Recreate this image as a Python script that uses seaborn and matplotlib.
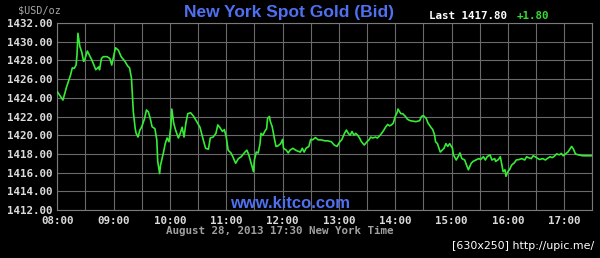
import matplotlib
matplotlib.use("Agg")
import matplotlib.pyplot as plt
import seaborn as sns
import pandas as pd
import numpy as np

# minutes after 08:00 (New York time)
minutes = [
    0, 6, 10, 14, 16, 18, 20, 21, 22, 24,
    26, 28, 29, 32, 34, 37, 39, 41, 44, 45,
    47, 49, 53, 56, 58, 61, 62, 65, 68, 72,
    75, 77, 79, 81, 83, 84, 86, 88, 90, 93,
    95, 97, 99, 101, 104, 106, 107, 109, 110, 113,
    115, 117, 119, 121, 122, 124, 126, 129, 131, 133,
    135, 137, 139, 142, 145, 148, 152, 155, 158, 161,
    163, 166, 169, 171, 173, 176, 178, 180, 182, 185,
    187, 190, 193, 196, 200, 202, 204, 207, 209, 210,
    212, 214, 216, 217, 219, 221, 223, 224, 226, 227,
    229, 231, 233, 235, 238, 240, 241, 244, 246, 248,
    251, 254, 256, 259, 261, 263, 265, 268, 270, 272,
    275, 278, 281, 285, 288, 292, 295, 298, 301, 303,
    306, 308, 310, 312, 314, 316, 318, 320, 322, 324,
    327, 330, 332, 334, 336, 339, 341, 344, 347, 350,
    352, 354, 356, 358, 360, 362, 363, 366, 368, 371,
    373, 376, 379, 382, 386, 388, 390, 393, 395, 398,
    400, 402, 403, 405, 408, 410, 412, 414, 416, 418,
    421, 422, 425, 427, 429, 431, 434, 436, 438, 441,
    443, 446, 449, 451, 454, 456, 458, 461, 463, 466,
    467, 470, 472, 474, 475, 477, 478, 480, 482, 484,
    487, 489, 492, 495, 498, 500, 502, 505, 507, 509,
    512, 514, 517, 520, 522, 525, 527, 529, 532, 535,
    537, 539, 542, 544, 546, 548, 550, 552, 555, 560,
    565, 569,
]

bid = [
    1424.65, 1423.76, 1425.2, 1426.4, 1427.2, 1427.15, 1427.5, 1428.6, 1430.9, 1429.5,
    1428.9, 1427.9, 1428.0, 1429.0, 1428.6, 1428.0, 1427.5, 1427.0, 1427.3, 1427.0,
    1428.2, 1428.4, 1428.4, 1428.2, 1427.5, 1428.9, 1429.35, 1429.1, 1428.4, 1427.9,
    1427.4, 1427.2, 1426.1, 1422.5, 1420.7, 1420.2, 1419.8, 1420.55, 1420.9, 1421.8,
    1422.7, 1422.5, 1421.8, 1420.9, 1420.7, 1419.5, 1417.2, 1415.9, 1416.8, 1418.1,
    1419.1, 1419.7, 1419.3, 1420.9, 1422.8, 1421.3, 1420.55, 1419.7, 1420.2, 1420.85,
    1419.8, 1421.3, 1422.3, 1422.4, 1422.05, 1421.55, 1420.85, 1419.7, 1418.6, 1418.5,
    1419.7, 1419.8, 1420.2, 1421.1, 1420.85, 1420.4, 1420.6, 1419.8, 1418.4, 1418.1,
    1417.7, 1417.0, 1417.5, 1417.7, 1418.2, 1418.4, 1417.9, 1416.8, 1416.1, 1417.35,
    1418.2, 1418.1, 1419.1, 1420.2, 1420.0, 1420.4, 1420.7, 1421.8, 1422.0, 1421.45,
    1420.9, 1419.8, 1418.8, 1418.85, 1419.1, 1419.55, 1418.6, 1418.4, 1418.1, 1418.4,
    1418.6, 1418.4, 1418.3, 1418.2, 1418.6, 1418.2, 1418.6, 1418.8, 1419.55, 1419.5,
    1419.75, 1419.5, 1419.5, 1419.4, 1419.4, 1419.3, 1418.95, 1418.8, 1419.3, 1419.5,
    1420.2, 1420.55, 1420.2, 1420.0, 1420.4, 1420.0, 1420.2, 1420.0, 1419.7, 1419.3,
    1418.95, 1419.3, 1419.5, 1419.8, 1419.7, 1419.8, 1419.7, 1420.0, 1420.4, 1420.9,
    1421.15, 1421.0, 1421.1, 1421.3, 1422.0, 1422.4, 1422.8, 1422.3, 1422.3, 1422.0,
    1421.7, 1421.55, 1421.5, 1421.45, 1421.55, 1422.0, 1422.1, 1421.8, 1421.3, 1420.85,
    1420.6, 1420.0, 1419.3, 1419.1, 1418.2, 1418.4, 1418.6, 1419.1, 1418.8, 1419.1,
    1418.6, 1417.9, 1417.35, 1417.7, 1418.1, 1417.5, 1417.35, 1416.8, 1416.3, 1417.0,
    1417.2, 1417.35, 1417.5, 1417.4, 1417.7, 1417.35, 1417.7, 1417.9, 1417.35, 1417.5,
    1417.2, 1417.4, 1417.7, 1416.6, 1416.1, 1416.3, 1415.6, 1416.1, 1416.35, 1416.8,
    1417.05, 1417.35, 1417.4, 1417.5, 1417.35, 1417.7, 1417.6, 1417.5, 1417.8, 1417.7,
    1417.5, 1417.4, 1417.5, 1417.35, 1417.5, 1417.7, 1417.6, 1417.7, 1418.0, 1417.9,
    1418.05, 1417.8, 1418.05, 1418.2, 1418.5, 1418.8, 1418.5, 1418.0, 1417.9, 1417.8,
    1417.8, 1417.8,
]

y_ticks = [1412, 1414, 1416, 1418, 1420, 1422, 1424, 1426, 1428, 1430, 1432]
hour_labels = ["08:00", "09:00", "10:00", "11:00", "12:00",
               "13:00", "14:00", "15:00", "16:00", "17:00"]

title = "New York Spot Gold (Bid)"
last_text = "Last 1417.80"
change_text = "+1.80"
unit_text = "$USD/oz"
site_text = "www.kitco.com"
date_text = "August 28, 2013 17:30 New York Time"
stamp_text = "[630x250] http://upic.me/"

sns.set_style("dark")
plt.rcParams['font.family'] = ['DejaVu Sans Mono']

W, H = 600, 258
fig = plt.figure(figsize=(W / 100, H / 100), dpi=100, facecolor='black')
ax = fig.add_axes([57.3 / W, 1 - 210 / H, 535 / W, 187 / H])
ax.set_facecolor('black')

df = pd.DataFrame({'hour': 8 + np.array(minutes) / 60.0, 'bid': bid})
sns.lineplot(data=df, x='hour', y='bid', ax=ax, color='#35ec35', linewidth=1.2, zorder=3)

ax.set_xlim(8, 17.5)
ax.set_ylim(1412, 1432)
xt = np.arange(8, 17.51, 0.5)
ax.set_xticks(xt)
xl = []
for i, v in enumerate(xt):
    xl.append(hour_labels[i // 2] if i % 2 == 0 and i // 2 < len(hour_labels) else "")
ax.set_xticklabels(xl)
ax.set_yticks(y_ticks)
ax.set_yticklabels([f"{v:.2f}" for v in y_ticks])
ax.set_xlabel("")
ax.set_ylabel("")

ax.grid(True, color='#6a6a6a', linewidth=0.8, zorder=1)
for s in ax.spines.values():
    s.set_visible(True)
    s.set_color('#7a7a7a')
    s.set_linewidth(0.8)

ax.tick_params(axis='both', length=0, colors='#dcdcdc', labelsize=7.8)
ax.tick_params(axis='y', pad=3.5)
ax.tick_params(axis='x', pad=4)
for lab in ax.get_xticklabels() + ax.get_yticklabels():
    lab.set_fontweight('bold')
    lab.set_color('#dcdcdc')

fig.text(18 / W, 1 - 10.5 / H, unit_text.replace('$', r'\$'), color='#a8a8a8',
         fontsize=7.3, ha='left', va='center')
fig.text(289 / W, 1 - 12 / H, title, color='#4f70f0', fontsize=12.5,
         fontweight='bold', family=['Liberation Sans'], ha='center', va='center')
fig.text(429 / W, 1 - 16 / H, last_text, color='white', fontsize=7.8,
         fontweight='bold', ha='left', va='center')
fig.text(517 / W, 1 - 16 / H, change_text, color='#33dd33', fontsize=7.8,
         fontweight='bold', ha='left', va='center')
fig.text(290 / W, 1 - 203 / H, site_text, color='#4f70f0', fontsize=12,
         fontweight='bold', family=['Liberation Sans'], ha='center', va='center')
fig.text(280 / W, 1 - 231 / H, date_text, color='#a0a0a0', fontsize=7.8,
         fontweight='bold', ha='center', va='center')
fig.text(594 / W, 1 - 246 / H, stamp_text, color='white', fontsize=7.9,
         family=['DejaVu Sans'], ha='right', va='center')

fig.savefig('out.png', dpi=100, facecolor='black')
